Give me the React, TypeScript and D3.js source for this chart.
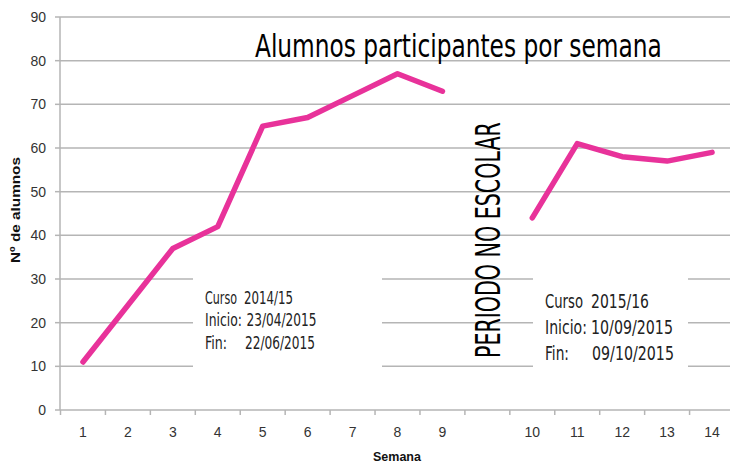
import React from "react";
import * as d3 from "d3";

const weeks: string[] = ["1", "2", "3", "4", "5", "6", "7", "8", "9", "", "10", "11", "12", "13", "14"];
const alumnos: (number | null)[] = [11, 24, 37, 42, 65, 67, 72, 77, 73, null, 44, 61, 58, 57, 59];
const yTicks: number[] = [0, 10, 20, 30, 40, 50, 60, 70, 80, 90];

const titleText = "Alumnos participantes por semana";
const gapText = "PERIODO NO ESCOLAR";
const yTitle = "Nº de alumnos";
const xTitle = "Semana";
const note1Labels = ["Curso", "Inicio:", "Fin:"];
const note1Values = ["2014/15", "23/04/2015", "22/06/2015"];
const note2Labels = ["Curso", "Inicio:", "Fin:"];
const note2Values = ["2015/16", "10/09/2015", "09/10/2015"];

const W = 730;
const H = 463;
const condensed = "'Liberation Sans Narrow','DejaVu Sans Condensed',sans-serif";
const tickFont = "'Liberation Sans','Open Sans',sans-serif";

let ctx: CanvasRenderingContext2D | null = null;
function measure(text: string, size: number, family: string, weight: string) {
  if (!ctx) ctx = document.createElement("canvas").getContext("2d");
  if (!ctx) return text.length * size * 0.5;
  ctx.font = `${weight} ${size}px ${family}`;
  return ctx.measureText(text).width;
}

type FitProps = {
  x: number;
  y: number;
  width: number;
  size: number;
  text: string;
  family: string;
  weight?: string;
  rotate?: number;
  anchor?: "start" | "middle" | "end";
  fill?: string;
};

function FitText({ x, y, width, size, text, family, weight = "normal", rotate = 0, anchor = "start", fill = "#222" }: FitProps) {
  const w = measure(text, size, family, weight);
  const fs = (size * width) / w;
  const sy = size / fs;
  return (
    <text
      transform={`translate(${x},${y}) rotate(${rotate}) scale(1,${sy})`}
      fontSize={fs}
      fontFamily={family}
      fontWeight={weight}
      textAnchor={anchor}
      fill={fill}
    >
      {text}
    </text>
  );
}

export default function App() {
  const keys = weeks.map((w, i) => i + ":" + w);
  const x = d3.scaleBand<string>().domain(keys).range([60.5, 734.5]).padding(0);
  const y = d3.scaleLinear().domain([0, 90]).range([410, 17]);
  const cx = (i: number) => (x(keys[i]) as number) + x.bandwidth() / 2;

  const line = d3
    .line<number | null>()
    .defined((d) => d != null)
    .x((_, i) => cx(i))
    .y((d) => y(d as number));

  const gridColor = "#b5b5b5";
  const boundaries = keys.map((k) => x(k) as number).concat([(x(keys[keys.length - 1]) as number) + x.bandwidth()]);

  const box1 = { x0: 193, x1: 382, y0: 268, y1: 376 };
  const box2 = { x0: 533, x1: 688, y0: 268, y1: 376 };

  const note1Lx = [205, 205, 205];
  const note1LW = [32, 37, 22];
  const note1Vx = [244, 246.5, 245];
  const note1VW = [49, 70, 70];
  const note1Base = [303.5, 326, 348.5];

  const note2Lx = [545, 545, 545];
  const note2LW = [38, 42, 24];
  const note2Vx = [591, 591, 592];
  const note2VW = [58, 82, 82];
  const note2Base = [307.5, 333.5, 360];

  return (
    <svg width={W} height={H} style={{ position: "absolute", left: 0, top: 0, background: "#fff" }}>
      <rect x={0} y={0} width={W} height={H} fill="#fff" />
      {yTicks.filter((t) => t > 0).map((t) => (
        <line key={"g" + t} x1={60} x2={W} y1={y(t)} y2={y(t)} stroke={gridColor} strokeWidth={1.5} />
      ))}
      <rect x={box1.x0} y={box1.y0} width={box1.x1 - box1.x0} height={box1.y1 - box1.y0} fill="#fff" />
      <rect x={box2.x0} y={box2.y0} width={box2.x1 - box2.x0} height={box2.y1 - box2.y0} fill="#fff" />

      <line x1={60} x2={60} y1={y(90)} y2={y(0)} stroke={gridColor} strokeWidth={1.5} />
      <line x1={60} x2={W} y1={y(0)} y2={y(0)} stroke={gridColor} strokeWidth={1.5} />
      {yTicks.map((t) => (
        <line key={"yt" + t} x1={55} x2={60} y1={y(t)} y2={y(t)} stroke={gridColor} strokeWidth={1.5} />
      ))}
      {boundaries.map((b, i) => (
        <line key={"xt" + i} x1={b} x2={b} y1={y(0)} y2={y(0) + 5} stroke={gridColor} strokeWidth={1.5} />
      ))}
      {yTicks.map((t) => (
        <text key={"yl" + t} x={46} y={y(t) + 5} textAnchor="end" fontFamily={tickFont} fontSize={14} fill="#333">
          {t}
        </text>
      ))}
      {weeks.map((w, i) =>
        w ? (
          <text key={"xl" + i} x={cx(i)} y={437} textAnchor="middle" fontFamily={tickFont} fontSize={14} fill="#333">
            {w}
          </text>
        ) : null
      )}

      <FitText x={20} y={210} rotate={-90} anchor="middle" width={106} size={12.5} text={yTitle} family={tickFont} weight="bold" fill="#111" />
      <text x={397} y={461} textAnchor="middle" fontFamily={tickFont} fontWeight="bold" fontSize={12.5} fill="#111">
        {xTitle}
      </text>

      <path d={line(alumnos) || ""} fill="none" stroke="#E8329A" strokeWidth={5.5} strokeLinejoin="round" strokeLinecap="round" />

      <FitText x={255} y={57} width={407} size={32} text={titleText} family={condensed} fill="#000" />
      <FitText x={500} y={358} rotate={-90} width={236} size={34} text={gapText} family={condensed} fill="#000" />

      {note1Labels.map((l, i) => (
        <g key={"n1" + i}>
          <FitText x={note1Lx[i]} y={note1Base[i]} width={note1LW[i]} size={17} text={l} family={condensed} />
          <FitText x={note1Vx[i]} y={note1Base[i]} width={note1VW[i]} size={17} text={note1Values[i]} family={condensed} />
        </g>
      ))}
      {note2Labels.map((l, i) => (
        <g key={"n2" + i}>
          <FitText x={note2Lx[i]} y={note2Base[i]} width={note2LW[i]} size={20} text={l} family={condensed} />
          <FitText x={note2Vx[i]} y={note2Base[i]} width={note2VW[i]} size={20} text={note2Values[i]} family={condensed} />
        </g>
      ))}
    </svg>
  );
}
